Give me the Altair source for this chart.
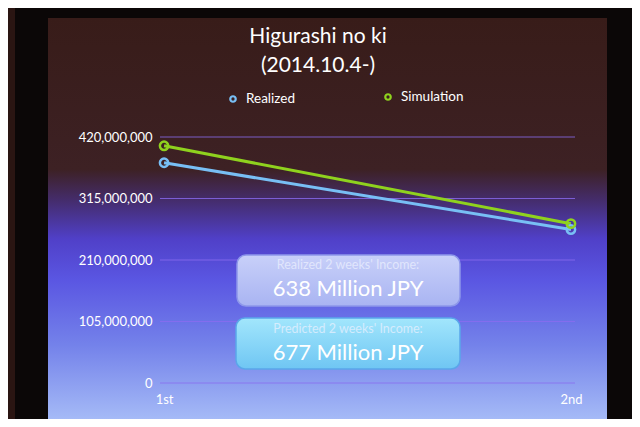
import altair as alt
import pandas as pd

# ---- data ----
rounds = ["1st", "2nd"]
realized = [376_000_000, 262_000_000]
simulation = [405_000_000, 272_000_000]
series_names = ["Realized", "Simulation"]
series_colors = ["#78bff5", "#8fd21e"]
y_ticks = [0, 105_000_000, 210_000_000, 315_000_000, 420_000_000]
title_lines = ["Higurashi no ki", "(2014.10.4-)"]
box_captions = ["Realized 2 weeks' Income:", "Predicted 2 weeks' Income:"]
box_values = ["638 Million JPY", "677 Million JPY"]

W, H = 415, 246
FONT = "Lato"

rows = []
for r, a, b in zip(rounds, realized, simulation):
    rows.append({"round": r, "series": series_names[0], "value": a})
    rows.append({"round": r, "series": series_names[1], "value": b})
df = pd.DataFrame(rows)
grid_df = pd.DataFrame({"value": y_ticks})
one = pd.DataFrame({"a": [0]})

y_scale = alt.Scale(domain=[0, 420_000_000], nice=False, zero=True)
y_axis = alt.Axis(values=y_ticks, labelExpr="format(datum.value, ',')", grid=False,
                  domain=False, ticks=False,
                  labelColor="white", labelFont=FONT, labelFontSize=13, labelPadding=8,
                  title=None, zindex=1)
x_enc = alt.X("round:O", sort=rounds, scale=alt.Scale(padding=0.01),
              axis=alt.Axis(labelAngle=0, domain=False, ticks=False, grid=False,
                            labelColor="white", labelFont=FONT, labelFontSize=13,
                            labelPadding=10, title=None, zindex=1))
y_enc = alt.Y("value:Q", scale=y_scale, axis=y_axis)
color_enc = alt.Color("series:N", scale=alt.Scale(domain=series_names, range=series_colors),
                      legend=None)

# ---- background ----
slide_grad = alt.Gradient(
    gradient="linear", x1=0, x2=0, y1=0, y2=1,
    stops=[
        alt.GradientStop(offset=0.0, color="#381c19"),
        alt.GradientStop(offset=0.37, color="#3d2124"),
        alt.GradientStop(offset=0.45, color="#452d70"),
        alt.GradientStop(offset=0.54, color="#5040c8"),
        alt.GradientStop(offset=0.64, color="#5a56e2"),
        alt.GradientStop(offset=0.80, color="#7482ea"),
        alt.GradientStop(offset=1.0, color="#aac0f8"),
    ])
slide = alt.Chart(one).mark_rect(color=slide_grad).encode(
    x=alt.value(-112), x2=alt.value(447), y=alt.value(-119), y2=alt.value(290))
strip = alt.Chart(one).mark_rect(color="#2a1512").encode(
    x=alt.value(-160), x2=alt.value(-145), y=alt.value(-137), y2=alt.value(290))

grid = alt.Chart(grid_df).mark_rule(color="#8a6cf0", strokeWidth=1, opacity=0.8).encode(
    y=y_enc, x=alt.value(0), x2=alt.value(W))

lines = alt.Chart(df).mark_line(strokeWidth=3).encode(x=x_enc, y=y_enc, color=color_enc)
points = alt.Chart(df).mark_point(shape="circle", filled=False, size=70, strokeWidth=2.5,
                                  opacity=1).encode(x=x_enc, y=y_enc, color=color_enc)

# ---- title & legend ----
title1 = alt.Chart(one).mark_text(text=title_lines[0], font=FONT, fontSize=21, color="white",
                                  align="center", baseline="middle").encode(
    x=alt.value(158), y=alt.value(-100))
title2 = alt.Chart(one).mark_text(text=title_lines[1], font=FONT, fontSize=21, color="white",
                                  align="center", baseline="middle").encode(
    x=alt.value(158), y=alt.value(-71))

leg_layers = []
for name, col, cx, cy in [(series_names[0], series_colors[0], 73, -38),
                          (series_names[1], series_colors[1], 228, -40)]:
    leg_layers.append(alt.Chart(one).mark_point(shape="circle", filled=False, size=30,
                                                strokeWidth=2.2, color=col, opacity=1).encode(
        x=alt.value(cx), y=alt.value(cy)))
    leg_layers.append(alt.Chart(one).mark_text(text=name, font=FONT, fontSize=13.5, color="white",
                                               align="left", baseline="middle").encode(
        x=alt.value(cx + 13), y=alt.value(cy)))

# ---- info boxes ----
box1_grad = alt.Gradient(gradient="linear", x1=0, x2=0, y1=0, y2=1,
                         stops=[alt.GradientStop(offset=0, color="#c8d0f9"),
                                alt.GradientStop(offset=1, color="#a9b4f2")])
box2_grad = alt.Gradient(gradient="linear", x1=0, x2=0, y1=0, y2=1,
                         stops=[alt.GradientStop(offset=0, color="#a2e6fc"),
                                alt.GradientStop(offset=1, color="#6fc6f3")])
box1 = alt.Chart(one).mark_rect(color=box1_grad, stroke="#8d97ea", strokeWidth=1.5,
                                cornerRadius=9).encode(
    x=alt.value(77), x2=alt.value(300), y=alt.value(118), y2=alt.value(169))
box2 = alt.Chart(one).mark_rect(color=box2_grad, stroke="#5aa6ea", strokeWidth=1.5,
                                cornerRadius=9).encode(
    x=alt.value(76), x2=alt.value(300), y=alt.value(181), y2=alt.value(232))

box_text = []
for cap, val, ycap, yval in [(box_captions[0], box_values[0], 128, 152),
                             (box_captions[1], box_values[1], 192, 216)]:
    box_text.append(alt.Chart(one).mark_text(text=cap, font=FONT, fontSize=12.5, color="#eef2ff",
                                             opacity=0.7, align="center", baseline="middle").encode(
        x=alt.value(188), y=alt.value(ycap)))
    box_text.append(alt.Chart(one).mark_text(text=val, font=FONT, fontSize=22, color="white",
                                             align="center", baseline="middle").encode(
        x=alt.value(188), y=alt.value(yval)))

chart = alt.layer(
    strip, slide, grid, lines, points, title1, title2, *leg_layers, box1, box2, *box_text
).properties(
    width=W, height=H,
    autosize=alt.AutoSizeParams(type="none"),
    padding={"left": 152, "top": 129, "right": 57, "bottom": 36},
    background="#0b0707",
).configure_view(stroke=None)

chart.save("out.html", embed_options={"renderer": "svg", "actions": False})
